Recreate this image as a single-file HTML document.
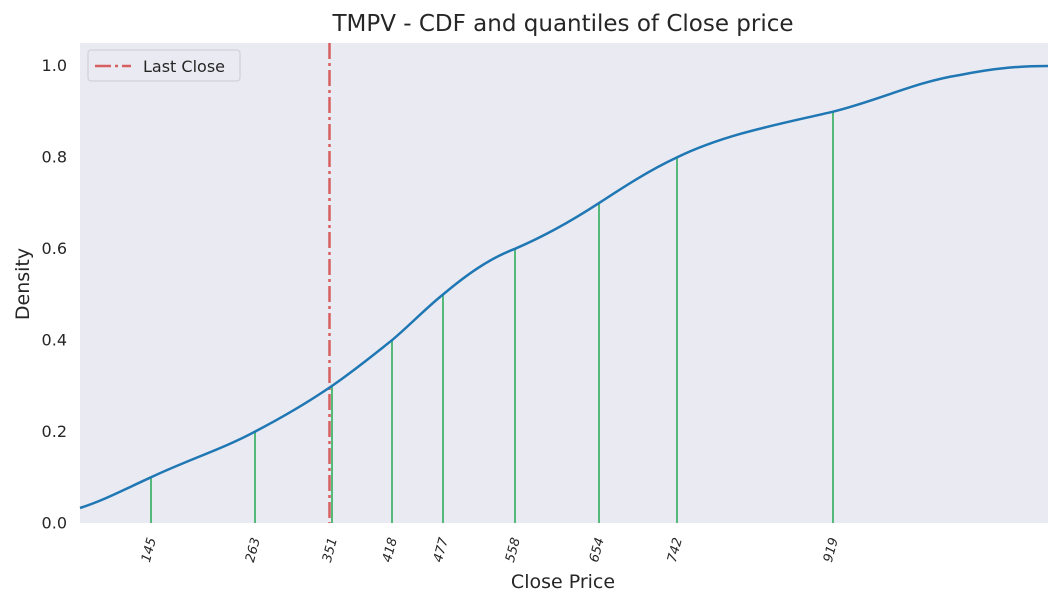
<!DOCTYPE html>
<html><head><meta charset="utf-8"><style>body{margin:0;background:#fff}svg{display:block}text{font-family:"DejaVu Sans","Liberation Sans",sans-serif;fill:#262626}</style></head><body>
<svg width="1060" height="604" viewBox="0 0 1060 604">
<rect x="80" y="43" width="968" height="480" fill="#eaeaf2"/>
<g stroke="#55b97a" stroke-width="2">
<line x1="151" y1="523" x2="151" y2="477.3"/>
<line x1="255" y1="523" x2="255" y2="431.6"/>
<line x1="332" y1="523" x2="332" y2="385.9"/>
<line x1="392" y1="523" x2="392" y2="340.2"/>
<line x1="443" y1="523" x2="443" y2="294.5"/>
<line x1="515" y1="523" x2="515" y2="248.8"/>
<line x1="599" y1="523" x2="599" y2="203.1"/>
<line x1="677" y1="523" x2="677" y2="157.4"/>
<line x1="833" y1="523" x2="833" y2="111.7"/>
</g>
<line x1="329.5" y1="43" x2="329.5" y2="523" stroke="#d65f5f" stroke-width="2.5" stroke-dasharray="16,4,3,4"/>
<path d="M80,508 C105,500 125,489 151,477.3 C185,461 225,448 255,431.6 C285,416 310,401 332,385.9 C355,370 372,356 392,340.2 C410,325 425,309 443,294.5 C465,276 488,259 515,248.8 C545,236 570,222 599,203.1 C625,186 650,170 677,157.4 C725,134 780,124 833,111.7 C880,100 915,82 960,75 C995,68 1020,66 1048,66" fill="none" stroke="#1f77b4" stroke-width="2.5"/>
<g font-size="16" text-anchor="end">
<text x="67" y="528.5">0.0</text><text x="67" y="437">0.2</text><text x="67" y="345.5">0.4</text><text x="67" y="254">0.6</text><text x="67" y="162.5">0.8</text><text x="67" y="71">1.0</text>
</g>
<g font-size="13" font-style="italic" text-anchor="end">
<text transform="translate(156,539) rotate(-75)">145</text>
<text transform="translate(260,539) rotate(-75)">263</text>
<text transform="translate(337,539) rotate(-75)">351</text>
<text transform="translate(397,539) rotate(-75)">418</text>
<text transform="translate(448,539) rotate(-75)">477</text>
<text transform="translate(520,539) rotate(-75)">558</text>
<text transform="translate(604,539) rotate(-75)">654</text>
<text transform="translate(682,539) rotate(-75)">742</text>
<text transform="translate(838,539) rotate(-75)">919</text>
</g>
<text x="563" y="588" font-size="19" text-anchor="middle">Close Price</text>
<text transform="translate(29,284) rotate(-90)" font-size="19" text-anchor="middle">Density</text>
<text x="563" y="31" font-size="23" text-anchor="middle">TMPV - CDF and quantiles of Close price</text>
<rect x="88" y="50" width="152" height="31" rx="3" fill="#eaeaf2" stroke="#d0d0d6" stroke-width="1.2"/>
<line x1="95" y1="66" x2="131" y2="66" stroke="#d65f5f" stroke-width="2.5" stroke-dasharray="16,4,3,4"/>
<text x="143" y="72" font-size="16">Last Close</text>
</svg>
</body></html>
